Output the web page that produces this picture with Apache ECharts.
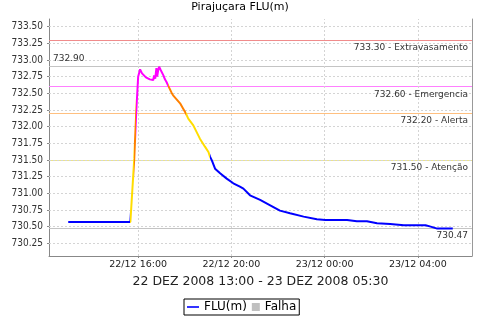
<!DOCTYPE html>
<html><head><meta charset="utf-8">
<script src="https://cdn.jsdelivr.net/npm/echarts@6/dist/echarts.min.js"></script>
<style>html,body{margin:0;padding:0;background:#fff}#c{width:480px;height:320px}</style>
</head><body><div id="c"></div>
<script>
const chartTitle = 'Pirajuçara FLU(m)';
const xAxisName = '22 DEZ 2008 13:00 - 23 DEZ 2008 05:30';
const seriesNames = ['FLU(m)', 'Falha'];
const times = [
  '22/12 13:00','22/12 15:40','22/12 15:50','22/12 15:55','22/12 16:00','22/12 16:05','22/12 16:10',
  '22/12 16:15','22/12 16:20','22/12 16:25','22/12 16:30','22/12 16:35','22/12 16:39','22/12 16:41',
  '22/12 16:44','22/12 16:47','22/12 16:49','22/12 16:52','22/12 16:54','22/12 16:58','22/12 17:01',
  '22/12 17:05','22/12 17:09','22/12 17:13','22/12 17:17','22/12 17:20','22/12 17:26','22/12 17:30',
  '22/12 17:39','22/12 17:48','22/12 17:56','22/12 18:02','22/12 18:09','22/12 18:22','22/12 18:39',
  '22/12 18:52','22/12 19:01','22/12 19:05','22/12 19:10','22/12 19:18','22/12 19:31','22/12 19:48',
  '22/12 20:05','22/12 20:22','22/12 20:31','22/12 20:48','22/12 21:14','22/12 21:40','22/12 22:05',
  '22/12 22:31','22/12 23:06','22/12 23:40','23/12 00:02','23/12 00:58','23/12 01:23','23/12 01:49',
  '23/12 02:15','23/12 02:49','23/12 03:24','23/12 04:20','23/12 04:33','23/12 04:50','23/12 05:30'
];
const values = [
  730.57, 730.57, 731.52, 732.21, 732.75, 732.86, 732.80,
  732.77, 732.74, 732.76, 732.71, 732.74, 732.70, 732.77,
  732.72, 732.88, 732.75, 732.86, 732.90, 732.85, 732.82,
  732.77, 732.71, 732.67, 732.62, 732.59, 732.51, 732.47,
  732.41, 732.35, 732.27, 732.21, 732.12, 732.02, 731.82,
  731.70, 731.62, 731.55, 731.49, 731.37, 731.30, 731.22,
  731.15, 731.10, 731.07, 730.97, 730.90, 730.82, 730.74,
  730.70, 730.65, 730.61, 730.60, 730.60, 730.58, 730.58,
  730.55, 730.54, 730.52, 730.52, 730.50, 730.47, 730.47
];
const xTickTimes = ['22/12 16:00','22/12 20:00','23/12 00:00','23/12 04:00'];
const yTickValues = [730.25,730.50,730.75,731.00,731.25,731.50,731.75,732.00,732.25,732.50,732.75,733.00,733.25,733.50];
const thresholdValues = [733.30, 732.60, 732.20, 731.50];
const thresholdNames = ['Extravasamento', 'Emergencia', 'Alerta', 'Atenção'];

// styles
const thresholdLineColors = ['#f08c8c', '#ff80ff', '#ffc080', '#ebe48c'];
const levelColors = ['#ff00ff', '#ff8000', '#ffdd00']; // for >= thresholds[1..3]
const baseColor = '#0000ff';

function ts(s) {
  const [d, hm] = s.split(' ');
  const [dd, mm] = d.split('/');
  const [h, m] = hm.split(':');
  return Date.UTC(2008, +mm - 1, +dd, +h, +m);
}
function pad(n) { return (n < 10 ? '0' : '') + n; }
function fmtX(v) {
  const d = new Date(v);
  return pad(d.getUTCDate()) + '/' + pad(d.getUTCMonth() + 1) + ' ' + pad(d.getUTCHours()) + ':' + pad(d.getUTCMinutes());
}
function levelColor(v) {
  if (v >= thresholdValues[1]) return levelColors[0];
  if (v >= thresholdValues[2]) return levelColors[1];
  if (v >= thresholdValues[3]) return levelColors[2];
  return baseColor;
}

const tvals = times.map(ts);
const data = tvals.map((t, i) => [t, values[i]]);
const span = tvals[tvals.length - 1] - tvals[0];
const xMin = tvals[0] - span * 0.05;
const xMax = tvals[tvals.length - 1] + span * 0.05;
const xTicks = xTickTimes.map(ts);

// color each segment by the level of its end point
const pieces = [];
for (let i = 1; i < tvals.length; i++) {
  const c = levelColor(values[i]);
  const last = pieces[pieces.length - 1];
  if (last && last.color === c) last.lte = tvals[i];
  else pieces.push({ gt: tvals[i - 1], lte: tvals[i], color: c });
}
pieces[0].gte = pieces[0].gt; delete pieces[0].gt;

const vMax = Math.max(...values);
const vMin = Math.min(...values);

const lblFont = { fontFamily: 'DejaVu Sans', fontSize: 9, color: '#333' };
const markData = thresholdValues.map((v, i) => ({
  yAxis: v,
  lineStyle: { color: thresholdLineColors[i], width: 1, type: 'solid' },
  label: Object.assign({ show: true, position: 'insideEndBottom', distance: [4, 3],
    formatter: v.toFixed(2) + ' - ' + thresholdNames[i] }, lblFont)
}));
markData.push({
  yAxis: vMax, lineStyle: { color: '#c4c4c4', width: 1, type: 'solid' },
  label: Object.assign({ show: true, position: 'insideStartTop', distance: [4, 4], formatter: vMax.toFixed(2) }, lblFont)
});
markData.push({
  yAxis: vMin, lineStyle: { color: '#c4c4c4', width: 1, type: 'solid' },
  label: Object.assign({ show: true, position: 'insideEndBottom', distance: [4, 3], formatter: vMin.toFixed(2) }, lblFont)
});

// dashed grid lines at the tick positions
const gridStyle = { color: '#d4d4d4', width: 1, type: [2, 2] };
const gridData = yTickValues.map(v => ({ yAxis: v }))
  .concat(xTicks.map(t => ({ xAxis: t })));

const chart = echarts.init(document.getElementById('c'), null, { renderer: 'canvas' });
chart.setOption({
  animation: false,
  backgroundColor: '#fff',
  title: {
    text: chartTitle, left: 'center', top: 2, padding: 0,
    textStyle: { fontFamily: 'DejaVu Sans', fontSize: 11, fontWeight: 'normal', color: '#000' }
  },
  grid: { left: 49, right: 8, top: 19, bottom: 64, containLabel: false },
  xAxis: {
    type: 'value', min: xMin, max: xMax,
    axisLine: { show: true, lineStyle: { color: '#888', width: 1 } },
    axisTick: { show: true, length: 2, customValues: xTicks, lineStyle: { color: '#888' } },
    axisLabel: { customValues: xTicks, formatter: fmtX, margin: 4,
      fontFamily: 'DejaVu Sans', fontSize: 9.5, color: '#222' },
    splitLine: { show: false },
    name: xAxisName, nameLocation: 'middle', nameGap: 19,
    nameTextStyle: { fontFamily: 'DejaVu Sans', fontSize: 12.5, color: '#222' }
  },
  yAxis: [{
    type: 'value', min: 730.059, max: 733.616,
    axisLine: { show: true, lineStyle: { color: '#888', width: 1 } },
    axisTick: { show: true, length: 2, customValues: yTickValues, lineStyle: { color: '#888' } },
    axisLabel: { customValues: yTickValues, formatter: v => v.toFixed(2), margin: 6,
      fontFamily: 'DejaVu Sans Condensed, DejaVu Sans', fontSize: 10, color: '#333' },
    splitLine: { show: false }
  }, {
    type: 'value', min: 730.059, max: 733.616, position: 'right',
    axisLine: { show: true, lineStyle: { color: '#999', width: 1 } },
    axisTick: { show: false }, axisLabel: { show: false }, splitLine: { show: false }
  }],
  visualMap: {
    show: false, type: 'piecewise', dimension: 0, seriesIndex: 0,
    pieces: pieces, outOfRange: { color: baseColor }
  },
  legend: {
    left: 184, top: 299, padding: [2, 3, 2, 3], itemGap: 1,
    borderColor: '#000', borderWidth: 1, borderRadius: 0,
    itemWidth: 12, itemHeight: 8,
    textStyle: { fontFamily: 'DejaVu Sans', fontSize: 12, color: '#000' },
    data: [
      { name: seriesNames[0], icon: 'path://M0,0L0,0M0,3.2L12,3.2L12,4.8L0,4.8ZM12,8L12,8', itemStyle: { color: baseColor } },
      { name: seriesNames[1], icon: 'path://M0,0L0,0M4,0L12,0L12,8L4,8ZM12,8L12,8', itemStyle: { color: '#c0c0c0' } }
    ]
  },
  series: [{
    name: seriesNames[0], type: 'line', data: data, showSymbol: false, symbol: 'none',
    lineStyle: { width: 2 }, z: 5
  }, {
    name: seriesNames[1], type: 'line', data: [], itemStyle: { color: '#c0c0c0' }, z: 3,
    markLine: { silent: true, symbol: 'none', animation: false, data: markData }
  }, {
    name: 'grid', type: 'line', data: [], z: 1,
    markLine: { silent: true, symbol: 'none', animation: false, label: { show: false },
      lineStyle: gridStyle, data: gridData }
  }]
});
</script>
</body></html>
